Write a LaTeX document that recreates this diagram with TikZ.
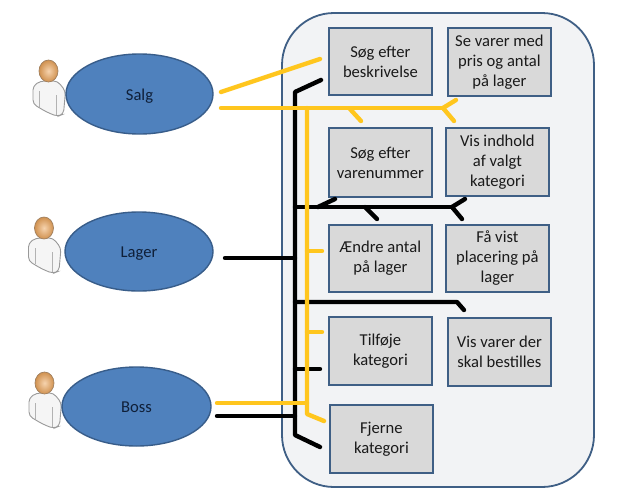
\documentclass[tikz,border=0pt]{standalone}
\usetikzlibrary{shapes.geometric}
\usepackage{fontspec}
\setmainfont{Carlito}
\definecolor{edgeblue}{HTML}{3F5F85}
\definecolor{ellfill}{HTML}{4F81BD}
\definecolor{ellline}{HTML}{385D8A}
\definecolor{panelfill}{HTML}{F2F3F5}
\definecolor{boxfill}{HTML}{D9D9D9}
\definecolor{ylw}{HTML}{FFC61E}
\definecolor{skinin}{HTML}{F6D3AE}
\definecolor{skinout}{HTML}{D0914F}
\definecolor{skinline}{HTML}{A08060}
\definecolor{txt}{HTML}{1A1A1A}
\definecolor{txtblue}{HTML}{0F1F38}
\tikzset{
 x=1pt,y=-1pt,
 usecase/.style={draw=edgeblue,line width=1.8pt,fill=boxfill,align=center,inner sep=0pt,font=\fontsize{16.6}{20}\selectfont,text=txt},
 actor/.style={draw=ellline,line width=1.4pt,fill=ellfill,ellipse,font=\fontsize{16.6}{20}\selectfont,text=txtblue},
 ylwline/.style={draw=ylw,line width=4.4pt,line cap=round,line join=round},
 blkline/.style={draw=black,line width=4.4pt,line cap=round,line join=round},
}
\newcommand{\ucbox}[6]{\node[usecase,minimum width=#4pt-#2pt,minimum height=#5pt-#3pt,anchor=north west] (#1) at (#2,#3) {#6};}
\newcommand{\acttext}[2]{\raisebox{-6pt}[0pt][0pt]{#1}\hspace{#2}}
\newcommand{\persona}[2]{\begin{scope}[shift={(#1,#2)}]
 \draw[black!40,line width=.9pt,fill=white!96!black,rounded corners=4pt] (-15.5,15) -- (-15.5,33) -- (-2,41) -- (9,45.5) -- (15,43) -- (17,20) -- (9,10) -- (-8,10) -- cycle;
 \draw[black!30,line width=.7pt] (-9,20) -- (-9,36) (8,24) -- (8,44);
 \shade[inner color=skinin,outer color=skinout,draw=skinline,line width=.7pt] (0,0) ellipse [x radius=9.5,y radius=11];
\end{scope}}
\begin{document}
\begin{tikzpicture}
\useasboundingbox (0,0) rectangle (630,501);
\fill[white] (0,0) rectangle (630,501);
\draw[edgeblue,line width=1.8pt,fill=panelfill,rounded corners=52pt] (282,13) rectangle (594,487);
\persona{48.5}{71}
\persona{44}{228}
\persona{44.5}{383}
\node[actor,minimum width=147pt,minimum height=80pt] (salg) at (139.5,94) {\acttext{Salg}{5pt}};
\node[actor,minimum width=148pt,minimum height=79pt] (lager) at (139,251.5) {\acttext{Lager}{4pt}};
\node[actor,minimum width=149pt,minimum height=79pt] (boss) at (136.5,406.5) {\acttext{Boss}{8pt}};
\ucbox{a}{328}{27}{431}{94}{Søg efter\\beskrivelse}
\ucbox{b}{447}{27}{550}{95}{Se varer med\\pris og antal\\på lager}
\ucbox{c}{328}{127}{431}{196}{Søg efter\\varenummer}
\ucbox{d}{445}{127}{548}{195}{Vis indhold\\af valgt\\kategori}
\ucbox{e}{328}{224}{431}{291}{Ændre antal\\på lager}
\ucbox{f}{445}{224}{548}{291}{Få vist\\placering på\\lager}
\ucbox{g}{328}{316}{431}{384}{Tilføje\\kategori}
\ucbox{h}{447}{317}{550}{385}{Vis varer der\\skal bestilles}
\ucbox{i}{329}{404}{432}{472}{Fjerne\\kategori}
% black lines
\coordinate (s1) at (221,92); \coordinate (s2) at (221,108);
\coordinate (ablk) at (321,80); \coordinate (iblk) at (320,447);
\draw[blkline] (ablk) -- (295,92) -- (295,435) -- (iblk);
\coordinate (lg) at (225,258); \draw[blkline] (lg) -- (295,258);
\coordinate (bb) at (217,416); \draw[blkline] (bb) -- (295,416);
\draw[blkline] (295,207) -- (452,207);
\coordinate (cb) at (335,199); \draw[blkline] (318,207) -- (cb);
\coordinate (eb) at (377,219); \draw[blkline] (365,207) -- (eb);
\coordinate (db) at (465,199); \draw[blkline] (db) -- (452,207);
\coordinate (fb) at (462,219); \draw[blkline] (452,207) -- (fb);
\coordinate (hb) at (464,310); \draw[blkline] (295,302) -- (457,302) -- (hb);
\coordinate (gb) at (320,369); \draw[blkline] (295,369) -- (gb);
% yellow lines
\coordinate (ay) at (320,59); \draw[ylwline] (s1) -- (ay);
\draw[ylwline] (s2) -- (443,108);
\coordinate (by) at (456,100); \draw[ylwline] (443,108) -- (by);
\coordinate (dy) at (454,121); \draw[ylwline] (443,108) -- (dy);
\coordinate (cy) at (361,121); \draw[ylwline] (350,109) -- (cy);
\coordinate (iy) at (324,421); \draw[ylwline] (307,108) -- (307,414) -- (iy);
\coordinate (ey) at (322,251); \draw[ylwline] (307,251) -- (ey);
\coordinate (gy) at (322,332); \draw[ylwline] (307,332) -- (gy);
\coordinate (by2) at (217,403); \draw[ylwline] (by2) -- (307,403);
\end{tikzpicture}
\end{document}
